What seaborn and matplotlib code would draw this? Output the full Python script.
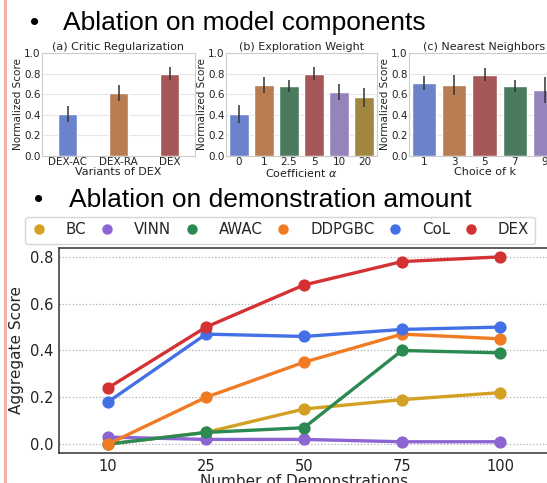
import matplotlib
matplotlib.use("Agg")
import matplotlib.pyplot as plt
from matplotlib.lines import Line2D
import pandas as pd
import seaborn as sns

W, H = 547, 483

# --- bar panels -------------------------------------------------------------
critic_labels = ["DEX-AC", "DEX-RA", "DEX"]
critic_scores = [0.41, 0.61, 0.80]
critic_err = [0.08, 0.08, 0.06]

alpha_labels = ["0", "1", "2.5", "5", "10", "20"]
alpha_scores = [0.41, 0.69, 0.68, 0.80, 0.62, 0.57]
alpha_err = [0.09, 0.08, 0.06, 0.06, 0.08, 0.09]

k_labels = ["1", "3", "5", "7", "9"]
k_scores = [0.71, 0.69, 0.79, 0.68, 0.64]
k_err = [0.07, 0.10, 0.06, 0.06, 0.13]

BLUE, TAN, GREEN, RED, PURPLE, OLIVE = (
    "#6b83cb", "#b97d53", "#4b7b5e", "#a65758", "#9584bb", "#a0863f")

# --- demonstration amount ---------------------------------------------------
demos = ["10", "25", "50", "75", "100"]
methods = ["BC", "VINN", "AWAC", "DDPGBC", "CoL", "DEX"]
bc = [0.00, 0.05, 0.15, 0.19, 0.22]
vinn = [0.03, 0.02, 0.02, 0.01, 0.01]
awac = [0.00, 0.05, 0.07, 0.40, 0.39]
ddpgbc = [0.00, 0.20, 0.35, 0.47, 0.45]
col = [0.18, 0.47, 0.46, 0.49, 0.50]
dex = [0.24, 0.50, 0.68, 0.78, 0.80]
line_colors = ["#d4a023", "#8c65d3", "#2b8a52", "#f07b22", "#4470e6", "#d43232"]


def px_axes(fig, left, top, right, bottom):
    return fig.add_axes([left / W, 1 - bottom / H, (right - left) / W, (bottom - top) / H])


def bar_panel(ax, labels, scores, err, colors, title, xlabel, width):
    sns.barplot(x=labels, y=scores, hue=labels, palette=colors, legend=False,
                width=width, saturation=1, ax=ax)
    ax.errorbar(range(len(labels)), scores, yerr=err, fmt="none",
                ecolor="#333333", elinewidth=1.1, capsize=0)
    ax.set_ylim(0, 1.0)
    ax.set_xlim(-0.5, len(labels) - 0.5)
    ax.set_yticks([0, 0.2, 0.4, 0.6, 0.8, 1.0])
    ax.set_title(title, fontsize=8, pad=2, color="#222222")
    ax.set_xlabel(xlabel, fontsize=8, labelpad=0, color="#222222")
    ax.set_ylabel("Normalized Score", fontsize=7.5, labelpad=1, color="#222222")
    ax.tick_params(labelsize=7.5, pad=1, colors="#222222", length=0)
    ax.grid(axis="y", color="#e6e6e6", linewidth=0.8)
    ax.grid(axis="x", visible=False)
    for s in ax.spines.values():
        s.set_color("#cccccc")
        s.set_linewidth(0.8)


def main():
    sns.set_theme(style="whitegrid")
    plt.rcParams["font.family"] = ["DejaVu Sans"]
    fig = plt.figure(figsize=(W / 100, H / 100), dpi=100)
    fig.patch.set_facecolor("white")

    # slide headings
    head = dict(fontsize=19, family=["Liberation Sans"], va="center", color="black")
    fig.text(30 / W, 1 - 23 / H, "\u2022", **head)
    fig.text(63 / W, 1 - 23 / H, "Ablation on model components", **head)
    fig.text(34 / W, 1 - 200 / H, "\u2022", **head)
    fig.text(69 / W, 1 - 200 / H, "Ablation on demonstration amount", **head)
    fig.add_artist(Line2D([5 / W, 5 / W], [0, 1], color="#f3b2ab", linewidth=2.2))

    ax_a = px_axes(fig, 42, 53, 195, 156)
    bar_panel(ax_a, critic_labels, critic_scores, critic_err, [BLUE, TAN, RED],
              "(a) Critic Regularization", "Variants of DEX", 0.38)
    ax_b = px_axes(fig, 226, 53, 377, 156)
    bar_panel(ax_b, alpha_labels, alpha_scores, alpha_err,
              [BLUE, TAN, GREEN, RED, PURPLE, OLIVE],
              "(b) Exploration Weight", r"Coefficient $\alpha$", 0.8)
    ax_c = px_axes(fig, 409, 53, 560, 156)
    bar_panel(ax_c, k_labels, k_scores, k_err, [BLUE, TAN, RED, GREEN, PURPLE],
              "(c) Nearest Neighbors", "Choice of k", 0.8)

    # line chart
    series = [bc, vinn, awac, ddpgbc, col, dex]
    df = pd.DataFrame({
        "demos": demos * len(methods),
        "score": [v for s in series for v in s],
        "method": [m for m in methods for _ in demos],
    })
    ax = px_axes(fig, 59, 248, 549, 453)
    ax.set_facecolor("white")
    sns.pointplot(data=df, x="demos", y="score", hue="method", order=demos,
                  hue_order=methods, palette=line_colors, markers="o",
                  markersize=7, linewidth=2.4, errorbar=None, legend=False, ax=ax)
    ax.set_xlim(-0.5, 4.5)
    ax.set_ylim(-0.038, 0.838)
    ax.set_yticks([0.0, 0.2, 0.4, 0.6, 0.8])
    ax.set_yticklabels(["0.0", "0.2", "0.4", "0.6", "0.8"])
    ax.grid(axis="y", linestyle=":", color="#b0b0b0", linewidth=0.9)
    ax.grid(axis="x", visible=False)
    ax.set_axisbelow(True)
    ax.tick_params(direction="in", length=4, width=1, labelsize=10.5,
                   colors="#222222", pad=4)
    ax.set_xlabel("Number of Demonstrations", fontsize=11, labelpad=0)
    ax.set_ylabel("Aggregate Score", fontsize=11, labelpad=4)
    for s in ax.spines.values():
        s.set_color("#333333")
        s.set_linewidth(1.1)

    handles = [Line2D([], [], linestyle="none", marker="o", markersize=6.5,
                      color=c) for c in line_colors]
    fig.legend(handles, methods, loc="center", bbox_to_anchor=(280 / W, 1 - 230 / H),
               ncol=6, fontsize=10.8, handlelength=1.0, handletextpad=1.3,
               columnspacing=0.87, borderpad=0.4, frameon=True, fancybox=True,
               edgecolor="#d6d6d6", framealpha=1)

    fig.savefig("out.png", dpi=100)


if __name__ == "__main__":
    main()
